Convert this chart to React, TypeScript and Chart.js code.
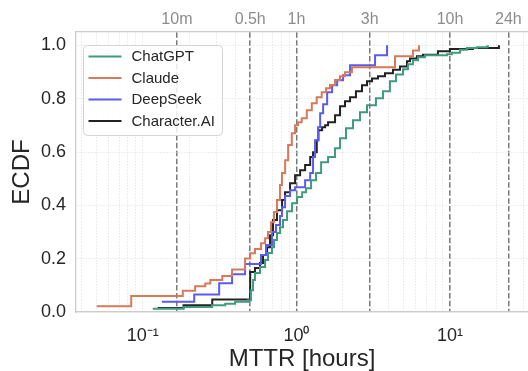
import React, { useEffect, useRef } from 'react';
import { Chart, registerables } from 'chart.js';

Chart.register(...registerables);

const FONT = "'Liberation Sans', Arial, Helvetica, sans-serif";

// ---- data (MTTR in hours, ECDF value after each step) ----
const chatgptHours = [0.116, 0.184, 0.282, 0.344, 0.399, 0.484, 0.506, 0.522, 0.537, 0.579, 0.625, 0.653, 0.693, 0.715, 0.747, 0.782, 0.818, 0.869, 0.937, 1.01, 1.089, 1.155, 1.245, 1.342, 1.448, 1.607, 1.784, 1.923, 2.103, 2.335, 2.593, 2.881, 3.294, 3.661, 4.064, 4.448, 4.943, 5.323, 5.737, 6.187, 6.867, 9.551, 10.28, 11.61, 12.88, 14.98, 17.38, 17.64];
const chatgptEcdf = [0.012, 0.019, 0.025, 0.031, 0.038, 0.044, 0.082, 0.120, 0.146, 0.169, 0.195, 0.221, 0.243, 0.270, 0.296, 0.318, 0.345, 0.378, 0.408, 0.431, 0.449, 0.464, 0.494, 0.521, 0.562, 0.581, 0.614, 0.652, 0.689, 0.719, 0.749, 0.775, 0.802, 0.828, 0.865, 0.891, 0.910, 0.929, 0.944, 0.955, 0.963, 0.967, 0.972, 0.983, 0.990, 0.993, 0.995, 1.0];

const claudeHours = [0.050, 0.084, 0.182, 0.219, 0.255, 0.275, 0.329, 0.381, 0.463, 0.50, 0.537, 0.588, 0.625, 0.653, 0.683, 0.714, 0.747, 0.782, 0.805, 0.844, 0.883, 0.933, 0.98, 1.025, 1.083, 1.168, 1.259, 1.355, 1.461, 1.559, 1.654, 1.784, 1.922, 2.071, 2.299, 4.382, 5.737, 6.282];
const claudeEcdf = [0.022, 0.060, 0.080, 0.097, 0.107, 0.120, 0.135, 0.159, 0.201, 0.220, 0.236, 0.258, 0.277, 0.300, 0.337, 0.375, 0.420, 0.476, 0.521, 0.569, 0.626, 0.670, 0.700, 0.712, 0.727, 0.757, 0.783, 0.805, 0.824, 0.839, 0.851, 0.870, 0.884, 0.899, 0.918, 0.959, 0.981, 1.0];

const deepseekHours = [0.133, 0.216, 0.314, 0.381, 0.463, 0.588, 0.634, 0.693, 0.736, 0.782, 0.806, 0.843, 0.909, 0.98, 1.139, 1.229, 1.283, 1.322, 1.384, 1.427, 1.492, 1.585, 1.707, 1.841, 2.012, 2.235, 3.25, 3.89];
const deepseekEcdf = [0.038, 0.066, 0.108, 0.142, 0.180, 0.214, 0.251, 0.300, 0.326, 0.360, 0.393, 0.435, 0.457, 0.468, 0.494, 0.521, 0.581, 0.644, 0.693, 0.745, 0.779, 0.824, 0.850, 0.869, 0.888, 0.925, 0.963, 1.0];

const characterHours = [0.125, 0.184, 0.283, 0.50, 0.537, 0.579, 0.606, 0.644, 0.673, 0.704, 0.747, 0.806, 0.843, 0.909, 0.98, 1.057, 1.139, 1.229, 1.283, 1.357, 1.391, 1.47, 1.538, 1.607, 1.784, 1.923, 2.071, 2.235, 2.441, 2.672, 2.881, 3.106, 3.396, 3.773, 4.252, 4.724, 5.244, 5.486, 6.095, 6.663, 8.344, 9.983, 14.1, 20.83];
const characterEcdf = [0.015, 0.025, 0.047, 0.150, 0.165, 0.184, 0.214, 0.243, 0.288, 0.345, 0.382, 0.420, 0.449, 0.483, 0.513, 0.532, 0.551, 0.581, 0.599, 0.644, 0.682, 0.693, 0.700, 0.712, 0.738, 0.772, 0.790, 0.805, 0.828, 0.850, 0.865, 0.876, 0.884, 0.895, 0.908, 0.921, 0.940, 0.951, 0.959, 0.965, 0.978, 0.986, 0.990, 1.0];

const seriesNames = ['ChatGPT', 'Claude', 'DeepSeek', 'Character.AI'];
const seriesColors = ['#3f9c7a', '#d67a5b', '#5a5cf0', '#222222'];

// ---- axes ----
const xMin = 0.0367;
const xMax = 32.2;
const decadeTicks = [0.1, 1, 10];
const decadeLabels = ['10\u207B\u00B9', '10\u2070', '10\u00B9'];
const refHours = [1 / 6, 0.5, 1, 3, 10, 24];
const refLabels = ['10m', '0.5h', '1h', '3h', '10h', '24h'];
const yTicks = [0, 0.2, 0.4, 0.6, 0.8, 1.0];
const yMax = 1.05;

function minorLogTicks(min: number, max: number) {
  const out: { value: number }[] = [];
  for (let e = Math.floor(Math.log10(min)); e <= Math.ceil(Math.log10(max)); e++) {
    for (let k = 1; k <= 9; k++) {
      const v = k * Math.pow(10, e);
      if (v > min && v < max) out.push({ value: v });
    }
  }
  return out;
}

const pairs = (h: number[], e: number[]) => h.map((x, i) => ({ x, y: e[i] }));

const noHPad = (s: any) => { s.paddingLeft = 0; s.paddingRight = 0; };

export default function App() {
  const ref = useRef<HTMLCanvasElement>(null);

  useEffect(() => {
    if (!ref.current) return;
    const legendPlugin = {
      id: 'boxLegend',
      afterDatasetsDraw(chart: any) {
        const ctx = chart.ctx as CanvasRenderingContext2D;
        const ca = chart.chartArea;
        const x0 = ca.left + 7.5;
        const y0 = ca.top + 13.5;
        const w = 139;
        const h = 90;
        ctx.save();
        ctx.beginPath();
        (ctx as any).roundRect(x0, y0, w, h, 4);
        ctx.fillStyle = 'rgba(255,255,255,0.85)';
        ctx.fill();
        ctx.strokeStyle = '#d4d4d4';
        ctx.lineWidth = 1;
        ctx.stroke();
        chart.data.datasets.forEach((ds: any, i: number) => {
          const y = y0 + 11 + i * 21.5;
          ctx.beginPath();
          ctx.moveTo(x0 + 5, y);
          ctx.lineTo(x0 + 38, y);
          ctx.strokeStyle = ds.borderColor;
          ctx.lineWidth = 2;
          ctx.stroke();
          ctx.fillStyle = '#262626';
          ctx.font = `15px ${FONT}`;
          ctx.textBaseline = 'middle';
          ctx.textAlign = 'left';
          ctx.fillText(ds.label, x0 + 48, y + 0.5);
        });
        ctx.restore();
      },
    };

    const allHours = [chatgptHours, claudeHours, deepseekHours, characterHours];
    const allEcdf = [chatgptEcdf, claudeEcdf, deepseekEcdf, characterEcdf];

    const chart = new Chart(ref.current, {
      type: 'line',
      data: {
        datasets: seriesNames.map((name, i) => ({
          label: name,
          data: pairs(allHours[i], allEcdf[i]),
          borderColor: seriesColors[i],
          backgroundColor: seriesColors[i],
          borderWidth: 2,
          pointRadius: 0,
          stepped: 'before' as const,
          fill: false,
          xAxisID: 'x',
          yAxisID: 'y',
        })),
      },
      options: {
        animation: false,
        responsive: false,
        maintainAspectRatio: false,
        layout: { padding: 0 },
        plugins: { legend: { display: false }, tooltip: { enabled: false } },
        scales: {
          x: {
            type: 'logarithmic',
            position: 'bottom',
            min: xMin,
            max: xMax,
            afterBuildTicks: (s: any) => { s.ticks = minorLogTicks(xMin, xMax); },
            afterFit: (s: any) => { s.height = 59; noHPad(s); },
            ticks: {
              autoSkip: false,
              maxRotation: 0,
              padding: 13,
              color: '#262626',
              font: { family: FONT, size: 18 },
              callback: (v: any) => {
                const idx = decadeTicks.findIndex((d) => Math.abs(d - Number(v)) / d < 1e-6);
                return idx >= 0 ? decadeLabels[idx] : '';
              },
            },
            grid: { color: '#e2e2e2', lineWidth: 0.8, drawTicks: false },
            border: { display: true, color: '#cccccc', width: 1.25, dash: [1.5, 1.5] },
            title: { display: true, text: 'MTTR [hours]', color: '#262626', font: { family: FONT, size: 24, lineHeight: 1 }, padding: 0 },
          },
          x2: {
            type: 'logarithmic',
            position: 'top',
            min: xMin,
            max: xMax,
            afterBuildTicks: (s: any) => { s.ticks = refHours.map((v) => ({ value: v })); },
            afterFit: (s: any) => { s.height = 32; noHPad(s); },
            ticks: {
              autoSkip: false,
              maxRotation: 0,
              padding: 3,
              color: '#8c8c8c',
              font: { family: FONT, size: 16 },
              callback: (_v: any, i: number) => refLabels[i],
            },
            grid: { color: 'rgba(100,100,100,0.85)', lineWidth: 1.5, drawTicks: false },
            border: { display: true, color: '#cccccc', width: 1.25, dash: [5.5, 2.4] },
          },
          y: {
            type: 'linear',
            position: 'left',
            min: 0,
            max: yMax,
            afterBuildTicks: (s: any) => { s.ticks = yTicks.map((v) => ({ value: v })); },
            afterFit: (s: any) => { s.width = 76; s.paddingTop = 0; s.paddingBottom = 0; },
            ticks: {
              padding: 10,
              color: '#262626',
              font: { family: FONT, size: 18 },
              callback: (v: any) => Number(v).toFixed(1),
            },
            grid: { color: '#e2e2e2', lineWidth: 0.8, drawTicks: false },
            border: { display: true, color: '#cccccc', width: 1.25, dash: [1.5, 1.5] },
            title: { display: true, text: 'ECDF', color: '#262626', font: { family: FONT, size: 24, lineHeight: 1 }, padding: { top: 10, bottom: 0 } },
          },
        },
      },
      plugins: [legendPlugin],
    } as any);

    return () => chart.destroy();
  }, []);

  return (
    <div style={{ position: 'absolute', left: 0, top: 0, width: 528, height: 371, background: '#ffffff' }}>
      <canvas ref={ref} width={528} height={371} style={{ display: 'block' }} />
    </div>
  );
}
